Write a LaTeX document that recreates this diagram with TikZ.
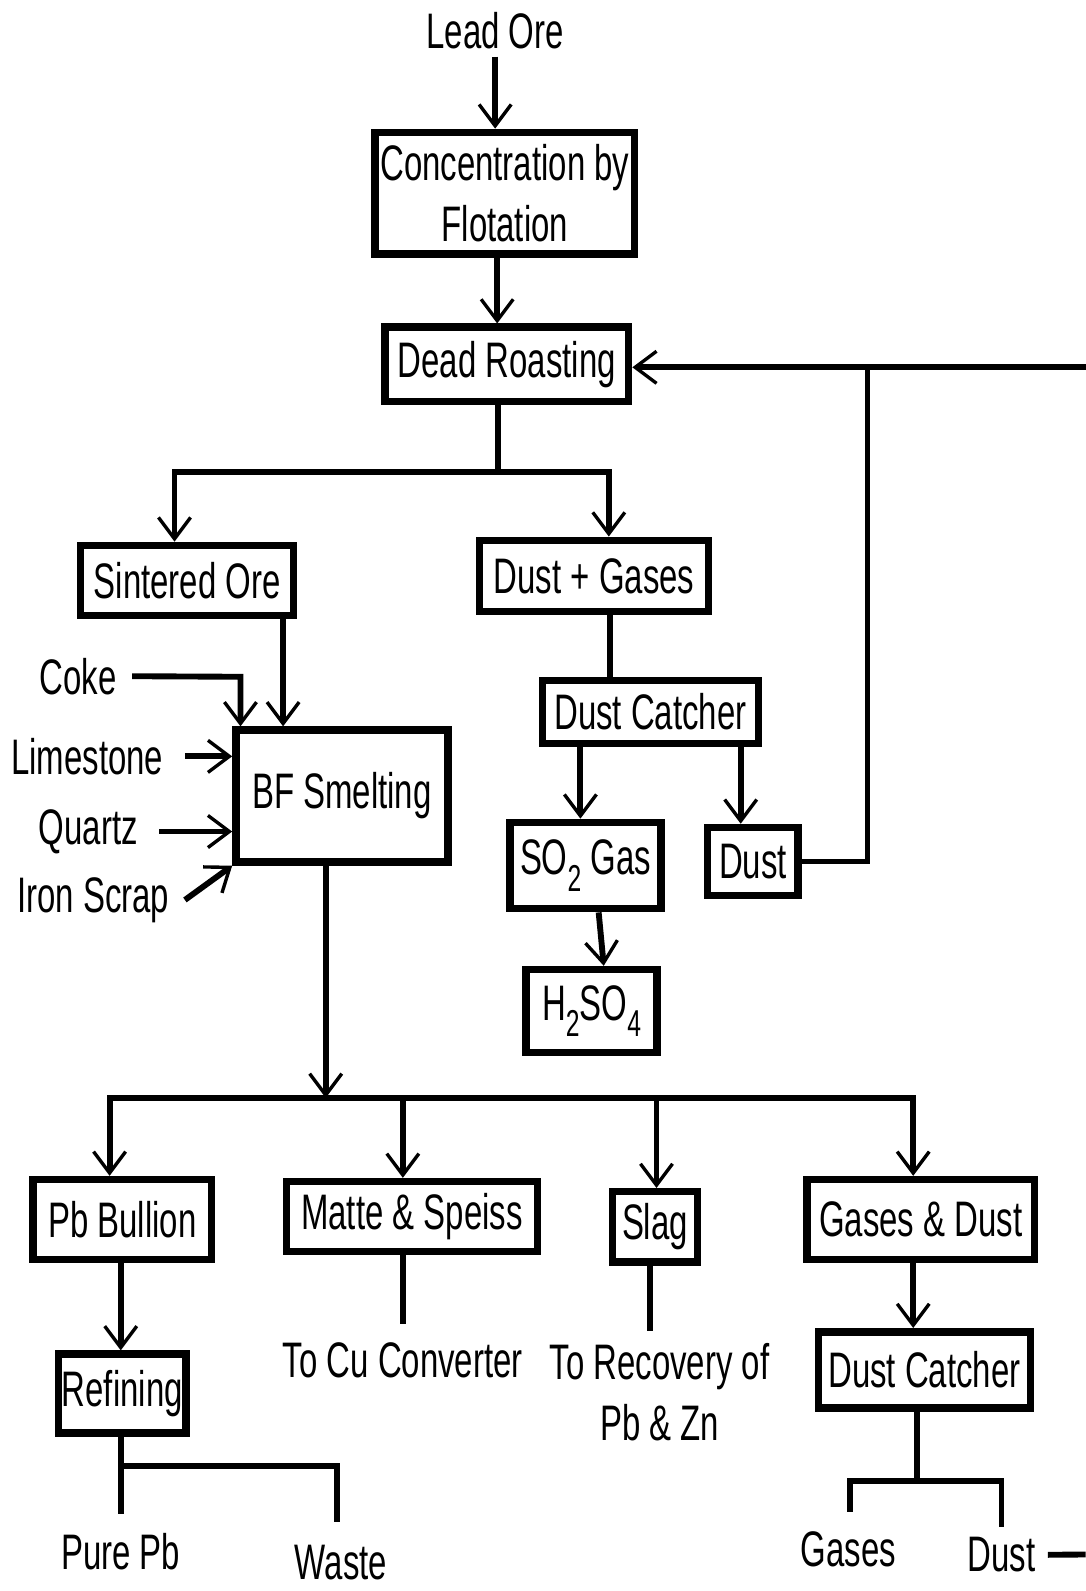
\documentclass[tikz,border=0pt]{standalone}
\usepackage{fontspec}
\setmainfont[FakeStretch=0.66]{Liberation Sans}
\usetikzlibrary{arrows.meta}
\newdimen\U \U=0.02cm
\newcommand\subs[1]{\raisebox{-0.33em}{\fontsize{21}{21}\selectfont #1}}
\begin{document}
\begin{tikzpicture}[x=0.02cm,y=-0.02cm,
  every node/.style={font=\fontsize{28}{34}\selectfont, align=center},
  box/.style={draw, line width=4.2pt, inner sep=0pt},
  lbl/.style={inner sep=0pt},
  conn/.style={line width=3.3pt, line join=miter},
  arr/.style={conn, -{Straight Barb[length=12pt,width=18pt,line width=1.9pt]}}
]
\useasboundingbox (0,0) rectangle (1070,1568);
% nodes
\node[lbl, anchor=base] (lead) at (488,48) {Lead Ore};
\node[box, minimum width=256\U, minimum height=120\U] (conc) at (497.5,190.5) {Concentration by\\Flotation};
\node[box, minimum width=240\U, minimum height=73\U] (dead) at (499.5,359) {Dead Roasting};
\node[box, minimum width=210\U, minimum height=69\U] (sint) at (184.5,572) {Sintered Ore};
\node[box, minimum width=226\U, minimum height=70\U] (dg) at (585.5,567.5) {Dust + Gases};
\node[box, minimum width=213\U, minimum height=62\U] (dc1) at (641,701.5) {Dust Catcher};
\node[box, minimum width=149\U, minimum height=85\U] (so2) at (577,853) {SO\subs{2} Gas};
\node[box, minimum width=89\U, minimum height=67\U] (dust1) at (742,849) {Dust};
\node[box, minimum width=129\U, minimum height=82\U] (h2so4) at (583,996.5) {H\subs{2}SO\subs{4}};
\node[box, minimum width=209\U, minimum height=130\U] (bf) at (337,784.5) {BF Smelting};
\node[lbl, anchor=base] (coke) at (77,684) {Coke};
\node[lbl, anchor=base] (lime) at (86,763) {Limestone};
\node[lbl, anchor=base] (quartz) at (87,832) {Quartz};
\node[lbl, anchor=base] (iron) at (92,899) {Iron Scrap};
\node[box, minimum width=176\U, minimum height=79\U] (pbb) at (120.5,1202) {Pb Bullion};
\node[box, minimum width=247\U, minimum height=69\U] (matte) at (406,1199) {Matte \& Speiss};
\node[box, minimum width=84\U, minimum height=69\U] (slag) at (645.5,1209) {Slag};
\node[box, minimum width=224\U, minimum height=79\U] (gd) at (907.5,1202) {Gases \& Dust};
\node[box, minimum width=126\U, minimum height=78\U] (ref) at (120.5,1373.5) {Refining};
\node[box, minimum width=209\U, minimum height=75\U] (dc2) at (911,1350) {Dust Catcher};
\node[lbl, anchor=base] (cu) at (397,1358) {To Cu Converter};
\node[lbl, anchor=north] (rec) at (650,1324) {To Recovery of\\Pb \& Zn};
\node[lbl, anchor=base] (pure) at (119,1547) {Pure Pb};
\node[lbl, anchor=base] (waste) at (336,1557) {Waste};
\node[lbl, anchor=base] (gases) at (836,1544) {Gases};
\node[lbl, anchor=base] (dust2) at (987,1549) {Dust};
% coordinates
\coordinate (c1) at (490,0);
\coordinate (j1) at (491,465);
\coordinate (a1) at (172,465);
\coordinate (a2) at (600,465);
\coordinate (d1) at (601,0);
\coordinate (d2) at (572,0);
\coordinate (d3) at (730,0);
\coordinate (fbR) at (1070,362);
\coordinate (fbJ) at (855,362);
\coordinate (s1) at (279,0);
\coordinate (ck) at (237,667);
\coordinate (j3) at (321,1082);
\coordinate (b1) at (108,1082);
\coordinate (b2) at (397,1082);
\coordinate (b3) at (647,1082);
\coordinate (b4) at (900,1082);
\coordinate (m1) at (397,1305);
\coordinate (sl1) at (641,1312);
\coordinate (p1) at (119,0);
\coordinate (r1) at (119,1445);
\coordinate (r2) at (332,1445);
\coordinate (rp) at (119,1492);
\coordinate (rw) at (332,1500);
\coordinate (g1) at (900,0);
\coordinate (k1) at (904,1460);
\coordinate (k2) at (838,1460);
\coordinate (k3) at (987,1460);
\coordinate (kg) at (838,1490);
\coordinate (kd) at (987,1505);
\coordinate (dx) at (1070,1532);
% connectors
\draw[arr, shorten <=7\U] (lead.south) -- (conc.north -| lead.south);
\draw[arr] (conc.south -| c1) -- (dead.north -| c1);
\draw[conn] (dead.south -| j1) -- (j1);
\draw[arr] (j1) -| (a1 |- sint.north);
\draw[arr] (j1) -| (a2 |- dg.north);
\draw[conn] (dg.south -| d1) -- (dc1.north -| d1);
\draw[arr] (dc1.south -| d2) -- (so2.north -| d2);
\draw[arr] (dc1.south -| d3) -- (dust1.north -| d3);
\draw[arr] ([xshift=13\U]so2.south) -- ([xshift=12\U]h2so4.north);
\draw[conn] (dust1.east) -| (fbJ);
\draw[arr] (fbR) -- (dead.east |- fbR);
\draw[arr] (sint.south -| s1) -- (bf.north -| s1);
\draw[arr] ([xshift=15\U]coke.east) -- (ck) -- (ck |- bf.north);
\draw[arr] ([xshift=21\U]lime.east) -- (bf.west |- lime.east);
\draw[arr] ([xshift=21\U]quartz.east) -- (bf.west |- quartz.east);
\draw[arr] ([xshift=15\U]iron.east) -- (bf.south west);
\draw[arr] (bf.south -| j3) -- (j3);
\draw[arr] (j3) -| (b1 |- pbb.north);
\draw[arr] (j3) -| (b4 |- gd.north);
\draw[arr] (b2) -- (b2 |- matte.north);
\draw[arr] (b3) -- (b3 |- slag.north);
\draw[conn] (matte.south -| m1) -- (m1);
\draw[conn] (slag.south -| sl1) -- (sl1);
\draw[arr] (pbb.south -| p1) -- (ref.north -| p1);
\draw[conn] (ref.south -| r1) -- (rp);
\draw[conn] (r1) -- (r2) -- (rw);
\draw[arr] (gd.south -| g1) -- (dc2.north -| g1);
\draw[conn] (dc2.south -| k1) -- (k1);
\draw[conn] (kg) -- (k2) -- (k3) -- (kd);
\draw[conn] ([xshift=12\U]dust2.east) -- (dx);
\end{tikzpicture}
\end{document}
